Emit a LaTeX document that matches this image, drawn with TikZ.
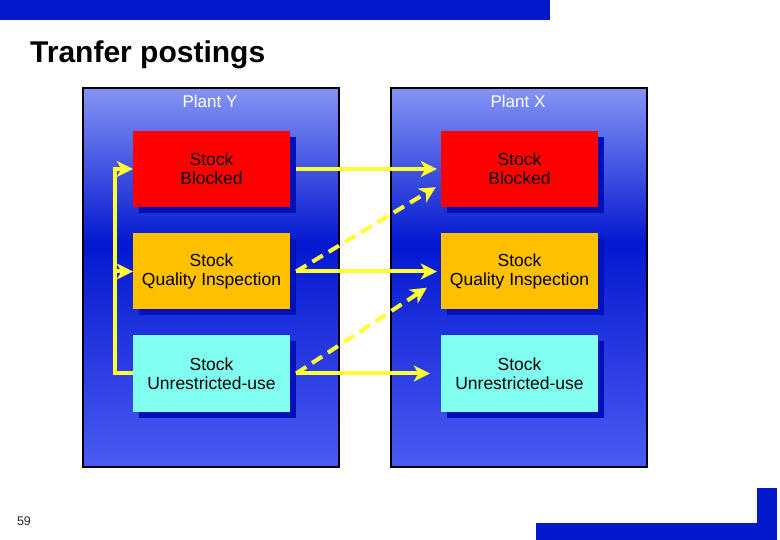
\documentclass[tikz,border=0pt]{standalone}
\usepackage{fontspec}
\setmainfont{Liberation Sans}
\usetikzlibrary{arrows.meta,shadows,calc}
\definecolor{barblue}{HTML}{0418CC}
\definecolor{shadowblue}{HTML}{0010B8}
\definecolor{paneltop}{HTML}{8494F4}
\definecolor{panelmid}{HTML}{0418D0}
\definecolor{panelbot}{HTML}{4A5CF2}
\definecolor{boxred}{HTML}{FF0000}
\definecolor{boxorange}{HTML}{FFC000}
\definecolor{boxcyan}{HTML}{80FFF0}
\definecolor{arrowyellow}{HTML}{FFFF33}
\pgfdeclareverticalshading{panelshade}{100bp}{color(0bp)=(panelbot); color(25bp)=(panelbot); color(54.5bp)=(panelmid); color(75bp)=(paneltop); color(100bp)=(paneltop)}
\begin{document}
\begin{tikzpicture}[x=1pt,y=-1pt,
  panel/.style={draw=black,line width=1.5pt,minimum width=256pt,minimum height=379pt,
    shading=panelshade,inner sep=0pt},
  plantlabel/.style={text=white,font=\fontsize{17}{20}\selectfont},
  stockbox/.style={minimum width=157pt,minimum height=76pt,inner sep=0pt,align=center,
    font=\fontsize{17.5}{19}\selectfont,
    drop shadow={shadow xshift=6pt,shadow yshift=-6pt,fill=shadowblue,opacity=1}},
  ya/.style={draw=arrowyellow,line width=4pt,-{Stealth[length=16pt,width=16pt,inset=4.5pt]}},
  yd/.style={ya,dash pattern=on 12pt off 7pt}
]
\useasboundingbox (0,0) rectangle (780,540);
\fill[white] (0,0) rectangle (780,540);
% top bar
\fill[barblue] (0,0) rectangle (550,20);
\node[anchor=base west,inner sep=0pt,font=\bfseries\fontsize{30}{35}\selectfont] (title) at (30,63) {Tranfer postings};
% panels
\node[panel] (plantY) at (211,277.5) {};
\node[panel] (plantX) at (519,277.5) {};
\node[plantlabel] (ly) at (210,101) {Plant Y};
\node[plantlabel] (lx) at (518,101) {Plant X};
% boxes
\node[stockbox,fill=boxred] (yb) at (211.5,169) {Stock\\Blocked};
\node[stockbox,fill=boxorange] (yq) at (211.5,271.5) {Stock\\Quality Inspection};
\node[stockbox,fill=boxcyan] (yu) at (211.5,373.5) {Stock\\Unrestricted-use};
\node[stockbox,fill=boxred] (xb) at (519.5,169) {Stock\\Blocked};
\node[stockbox,fill=boxorange] (xq) at (519.5,271.5) {Stock\\Quality Inspection};
\node[stockbox,fill=boxcyan] (xu) at (519.5,373.5) {Stock\\Unrestricted-use};
% arrows between plants
\draw[ya,shorten <=6pt,shorten >=4pt] (yb.east) -- (xb.west);
\draw[ya,shorten <=6pt,shorten >=4pt] (yq.east) -- (xq.west);
\draw[ya,shorten <=6pt,shorten >=11pt] (yu.east) -- (xu.west);
\draw[yd] ($(yq.east)+(6,0)$) -- ($(xb.south west)+(-5,-20)$);
\draw[yd] ($(yu.east)+(6,0)$) -- ($(xq.south west)+(-14,-22)$);
% left loop
\draw[ya] (yu.west) -- ++(-18,0) |- (yb.west);
\draw[ya] ($(yq.west)+(-18,0)$) -- (yq.west);
% page number and corner decoration
\node[font=\fontsize{12.5}{15}\selectfont,text=black!85] (pg) at (24,521) {59};
\fill[barblue] (536,523) rectangle (760,540);
\fill[barblue] (757,488) rectangle (777,540);
\end{tikzpicture}
\end{document}
